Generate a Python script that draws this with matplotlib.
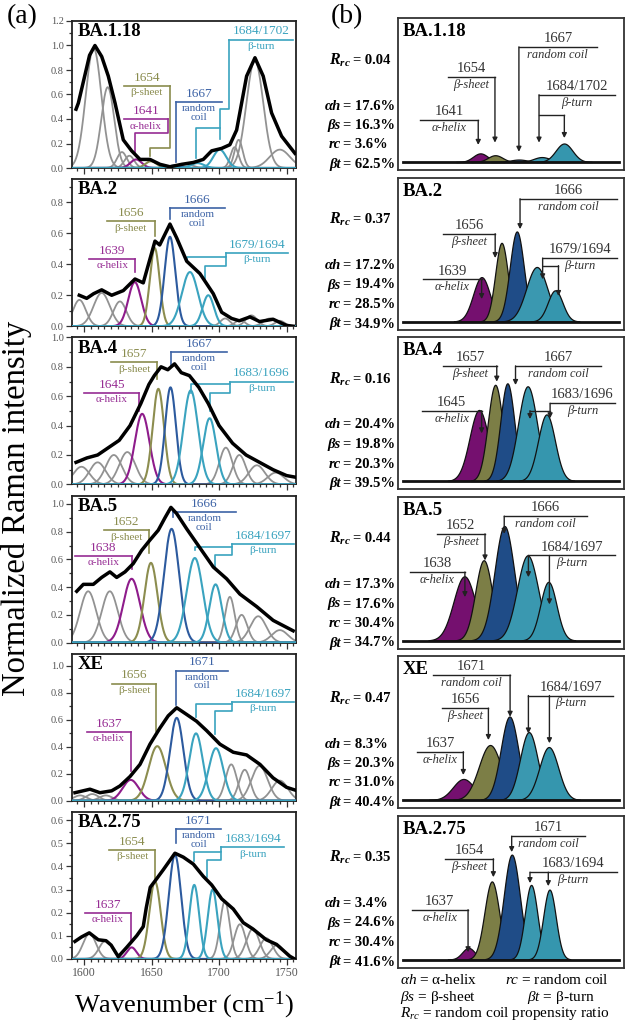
import numpy as np
import matplotlib
matplotlib.use("Agg")
import matplotlib.pyplot as plt
from matplotlib.ticker import MultipleLocator, FormatStrFormatter

plt.rcParams['font.family'] = ['Liberation Serif', 'DejaVu Serif']
plt.rcParams['mathtext.fontset'] = 'custom'
plt.rcParams['mathtext.rm'] = 'Liberation Serif'
plt.rcParams['mathtext.it'] = 'Liberation Serif:italic'
plt.rcParams['mathtext.bf'] = 'Liberation Serif:italic:bold'

# ---------------- data ----------------
names = ['BA.1.18', 'BA.2', 'BA.4', 'BA.5', 'XE', 'BA.2.75']

# measured spectra (black)
black_wn = [
    [1594, 1595.7, 1600.6, 1604, 1608, 1613, 1617.9, 1622.9, 1629, 1635.2, 1641.4, 1648.8, 1656.2, 1663.6,
     1672.3, 1680.9, 1688.3, 1694.5, 1701.9, 1708, 1713, 1720.4, 1726.6, 1732.7, 1738.9, 1746.3, 1756.2],
    [1596.4, 1601.9, 1607, 1613, 1620.4, 1629, 1637.7, 1643.8, 1652.5, 1656, 1663.6, 1668.6, 1676, 1685.8,
     1695.7, 1701.9, 1709.3, 1715, 1722.9, 1730, 1740, 1750, 1755],
    [1594, 1602, 1610, 1618, 1626, 1634, 1642, 1648, 1652, 1657, 1662, 1667, 1672, 1678, 1685, 1692, 1700,
     1710, 1720, 1730, 1740, 1750, 1756],
    [1594.5, 1599.4, 1606.8, 1613, 1619.1, 1624.1, 1630.3, 1636.4, 1642.6, 1648.8, 1654.9, 1659.9, 1664.3,
     1668.6, 1676, 1684.6, 1695.7, 1705.6, 1715.4, 1727.8, 1740.1, 1754.9],
    [1593.2, 1604.3, 1611.7, 1620.4, 1626.5, 1634, 1641.4, 1648.8, 1656.2, 1662.3, 1668.6, 1676, 1683.3,
     1690.8, 1700.6, 1710.5, 1720.4, 1730.3, 1740, 1750, 1756.2],
    [1593.2, 1598, 1603.8, 1610.5, 1616.2, 1620, 1625.3, 1631.5, 1638.9, 1643.8, 1646, 1649, 1652.5, 1658.7,
     1667.3, 1673.5, 1680.9, 1688.3, 1694.5, 1701.9, 1710.5, 1717.9, 1725, 1735, 1742.6, 1752.4, 1756],
]
black_int = [
    [0.48, 0.53, 0.76, 0.92, 1.0, 0.91, 0.75, 0.53, 0.23, 0.14, 0.07, 0.07, 0.03, 0.01,
     0.03, 0.045, 0.07, 0.14, 0.16, 0.19, 0.31, 0.75, 0.9, 0.75, 0.45, 0.26, 0.12],
    [0.20, 0.18, 0.21, 0.235, 0.20, 0.23, 0.305, 0.28, 0.55, 0.525, 0.66, 0.57, 0.42, 0.34,
     0.21, 0.09, 0.05, 0.035, 0.06, 0.03, 0.045, 0.005, 0.0],
    [0.15, 0.18, 0.2, 0.25, 0.3, 0.4, 0.55, 0.68, 0.74, 0.8, 0.78, 0.82, 0.76, 0.74, 0.66, 0.55, 0.4,
     0.28, 0.2, 0.15, 0.1, 0.06, 0.05],
    [0.37, 0.42, 0.42, 0.47, 0.51, 0.47, 0.51, 0.57, 0.665, 0.74, 0.81, 0.9, 0.975, 0.93, 0.82, 0.70,
     0.545, 0.46, 0.35, 0.26, 0.16, 0.085],
    [0.06, 0.086, 0.06, 0.074, 0.11, 0.18, 0.27, 0.42, 0.54, 0.63, 0.69, 0.64, 0.59, 0.52, 0.42, 0.36,
     0.34, 0.27, 0.17, 0.10, 0.08],
    [0.076, 0.095, 0.113, 0.083, 0.079, 0.06, 0.01, 0.05, 0.10, 0.14, 0.22, 0.31, 0.337, 0.386, 0.457,
     0.44, 0.41, 0.357, 0.32, 0.26, 0.216, 0.157, 0.13, 0.083, 0.063, 0.012, 0.0],
]

# fitted bands: alpha-helix, beta-sheet, random coil, beta-turn 1, beta-turn 2
band_c = [
    [1638.5, 1649.5, 1667, 1684, 1700.5],
    [1637.5, 1652.3, 1663.6, 1678.4, 1692],
    [1643, 1655, 1664, 1679, 1693],
    [1635.2, 1649.5, 1664.8, 1682, 1697.4],
    [1634.5, 1654.2, 1668.6, 1682.9, 1697.7],
    [1635.2, 1652.5, 1667.3, 1681.6, 1695.2],
]
band_h = [
    [0.07, 0.055, 0.02, 0.04, 0.15],
    [0.285, 0.505, 0.578, 0.35, 0.2],
    [0.48, 0.65, 0.66, 0.64, 0.45],
    [0.46, 0.575, 0.82, 0.61, 0.42],
    [0.155, 0.405, 0.615, 0.5, 0.39],
    [0.05, 0.335, 0.45, 0.32, 0.30],
]
band_w = [
    [4.2, 4.2, 4.8, 4.8, 4.8],
    [4.8, 3.6, 4.0, 6.0, 4.2],
    [5.4, 4.2, 4.0, 5.4, 4.8],
    [6.2, 4.8, 5.6, 6.0, 4.6],
    [6.0, 6.4, 5.0, 5.0, 5.4],
    [3.6, 4.2, 4.6, 3.6, 3.6],
]
# other (grey) bands
grey_c = [
    [1607, 1617.5, 1628, 1633.5, 1676, 1711.5, 1714.5, 1726.5, 1745],
    [1596.5, 1613, 1626.5, 1704.5, 1715.5, 1724, 1737.7, 1745],
    [1598, 1610, 1622, 1632, 1705, 1715, 1728, 1742],
    [1603, 1619, 1708, 1716.7, 1729, 1745],
    [1597, 1606, 1616, 1709, 1719, 1730, 1745],
    [1604, 1616, 1704.3, 1715.4, 1725, 1735, 1743],
]
grey_h = [
    [0.98, 0.66, 0.13, 0.1, 0.03, 0.17, 0.23, 0.88, 0.15],
    [0.17, 0.215, 0.16, 0.05, 0.04, 0.07, 0.05, 0.035],
    [0.12, 0.15, 0.2, 0.22, 0.25, 0.2, 0.13, 0.08],
    [0.37, 0.37, 0.33, 0.2, 0.19, 0.09],
    [0.04, 0.05, 0.04, 0.27, 0.23, 0.26, 0.15],
    [0.11, 0.08, 0.25, 0.15, 0.13, 0.09, 0.06],
]
grey_w = [
    [5.8, 4.8, 3.6, 3.6, 4.8, 3, 3, 6.2, 7.5],
    [4.8, 6, 4.8, 3.6, 3.6, 4.2, 4.8, 3.6],
    [6, 6, 6, 6, 4.8, 4.8, 6, 6],
    [6, 6, 3.6, 4.2, 6, 6],
    [4.8, 4.8, 4.8, 4.2, 4.2, 6, 6],
    [4.8, 4.8, 3.6, 4.2, 4.8, 4.8, 4.8],
]

band_labels = [
    ['1641', '1654', '1667', '1684/1702'],
    ['1639', '1656', '1666', '1679/1694'],
    ['1645', '1657', '1667', '1683/1696'],
    ['1638', '1652', '1666', '1684/1697'],
    ['1637', '1656', '1671', '1684/1697'],
    ['1637', '1654', '1671', '1683/1694'],
]
r_rc = ['0.04', '0.37', '0.16', '0.44', '0.47', '0.35']
pct_ah = ['17.6%', '17.2%', '20.4%', '17.3%', '8.3%', '3.4%']
pct_bs = ['16.3%', '19.4%', '19.8%', '17.6%', '20.3%', '24.6%']
pct_rc = ['3.6%', '28.5%', '20.3%', '30.4%', '31.0%', '30.4%']
pct_bt = ['62.5%', '34.9%', '39.5%', '34.7%', '40.4%', '41.6%']

y_top = [1.2, 0.95, 1.0, 1.06, 1.09, 0.635]
y_step = [0.2, 0.2, 0.2, 0.2, 0.2, 0.1]

# ---------------- style ----------------
LINE_C = ['#8e1c8b', '#8c8d4f', '#2c5a9e', '#3aa3bf', '#3aa3bf']
FILL_C = ['#75106f', '#7c7e46', '#1f4c87', '#3a98b0', '#3596ae']
GREY = '#929292'
TXT = '#333333'
RIGHT_WIDEN = 1.3

W, H = 627, 1026
fig = plt.figure(figsize=(W / 100, H / 100), dpi=100)


def add_ax(x, y, w, h):
    return fig.add_axes([x / W, 1 - (y + h) / H, w / W, h / H])


def gauss(x, c, h, w):
    return h * np.exp(-0.5 * ((x - c) / w) ** 2)


xs = np.linspace(1560, 1770, 1100)

# left annotation layout: (x0, x1, yline, paths) x in cm-1, y in axes fraction
left_notes = [
    [(1629.5, 1662.3, 0.33, [[(1662.3, .33), (1662.3, .24), (1638, .24), (1638, .10)]]),
     (1629.5, 1663.3, 0.556, [[(1663.3, .556), (1663.3, .137), (1648.5, .137), (1648.5, .08)]]),
     (1668, 1702, 0.449, [[(1668, .449), (1668, .04)]]),
     (1707.5, 1755, 0.873, [[(1707.5, .873), (1707.5, .40), (1700.6, .40), (1700.6, .2)],
                            [(1700.6, .27), (1683, .27), (1683, .07)]])],
    [(1603.8, 1637.7, 0.458, [[(1637.7, .458), (1637.7, .37)]]),
     (1616.6, 1652.4, 0.713, [[(1652.4, .713), (1652.4, .616)]]),
     (1663.5, 1704.2, 0.803, [[(1663.5, .803), (1663.5, .73)]]),
     (1705.4, 1751.1, 0.496, [[(1705.4, .496), (1705.4, .47), (1676.3, .47), (1676.3, .437)],
                              [(1705.4, .47), (1705.4, .41), (1689.9, .41), (1689.9, .3)]])],
    [(1600, 1641, 0.62, [[(1641, .62), (1641, .5)]]),
     (1620, 1654, 0.83, [[(1654, .83), (1654, .72)]]),
     (1664, 1706, 0.9, [[(1664, .9), (1664, .8)]]),
     (1708, 1755, 0.7, [[(1708, .7), (1708, .68), (1679, .68), (1679, .62)],
                        [(1708, .68), (1708, .62), (1693, .62), (1693, .5)]])],
    [(1593.2, 1635.2, 0.589, [[(1635.2, .589), (1635.2, .503)]]),
     (1614.4, 1647.7, 0.763, [[(1647.7, .763), (1647.7, .607)]]),
     (1665.6, 1712.5, 0.887, [[(1665.6, .887), (1665.6, .853)]]),
     (1709.5, 1755.7, 0.672, [[(1709.5, .672), (1709.5, .65), (1682.4, .65), (1682.4, .627)],
                              [(1709.5, .65), (1709.5, .598), (1697.3, .598), (1697.3, .507)]])],
    [(1601.9, 1634.5, 0.47, [[(1634.5, .47), (1634.5, .2)]]),
     (1620.7, 1653.3, 0.797, [[(1653.3, .797), (1653.3, .475)]]),
     (1668.1, 1706.4, 0.886, [[(1668.1, .886), (1668.1, .655)]]),
     (1709.5, 1755.7, 0.673, [[(1709.5, .673), (1709.5, .66), (1682.9, .66), (1682.9, .57)],
                              [(1709.5, .66), (1709.5, .611), (1697.3, .611), (1697.3, .457)]])],
    [(1600.6, 1634.5, 0.312, [[(1634.5, .312), (1634.5, .116)]]),
     (1618.6, 1652.5, 0.74, [[(1652.5, .74), (1652.5, .53)]]),
     (1668.1, 1701.4, 0.884, [[(1668.1, .884), (1668.1, .787)]]),
     (1701.4, 1748.3, 0.759, [[(1701.4, .759), (1701.4, .729), (1681.6, .729), (1681.6, .667)],
                              [(1701.4, .729), (1701.4, .671), (1691, .671), (1691, .556)]])],
]

# right annotation layout (axes fraction): (x0, x1, yline, arrow paths)
right_notes = [
    [(0.097, 0.355, 0.327, [[(0.355, .327), (0.355, .165)]]),
     (0.223, 0.429, 0.61, [[(0.429, .61), (0.429, .18)]]),
     (0.535, 0.879, 0.81, [[(0.535, .81), (0.535, .12)]]),
     (0.624, 0.96, 0.495, [[(0.624, .495), (0.624, .18)], [(0.624, .36), (0.736, .36), (0.736, .21)]])],
    [(0.11, 0.37, 0.33, [[(0.37, .33), (0.37, .2)]]),
     (0.2, 0.43, 0.63, [[(0.43, .63), (0.43, .47)]]),
     (0.54, 0.97, 0.86, [[(0.54, .86), (0.54, .66)]]),
     (0.64, 0.97, 0.47, [[(0.64, .47), (0.64, .33)], [(0.64, .42), (0.71, .42), (0.71, .22)]])],
    [(0.105, 0.37, 0.515, [[(0.37, .515), (0.37, .366)]]),
     (0.2, 0.437, 0.81, [[(0.437, .81), (0.437, .706)]]),
     (0.52, 0.9, 0.81, [[(0.52, .81), (0.52, .684)]]),
     (0.673, 0.96, 0.564, [[(0.673, .564), (0.673, .465)], [(0.673, .515), (0.584, .515), (0.584, .46)]])],
    [(0.053, 0.296, 0.503, [[(0.296, .503), (0.296, .338)]]),
     (0.171, 0.385, 0.754, [[(0.385, .754), (0.385, .579)]]),
     (0.47, 0.835, 0.871, [[(0.47, .871), (0.47, .754)]]),
     (0.577, 0.96, 0.612, [[(0.577, .612), (0.577, .469)], [(0.67, .612), (0.67, .29)]])],
    [(0.083, 0.289, 0.37, [[(0.289, .37), (0.289, .217)]]),
     (0.193, 0.4, 0.657, [[(0.4, .657), (0.4, .447)]]),
     (0.156, 0.496, 0.875, [[(0.496, .875), (0.496, .6)]]),
     (0.577, 0.953, 0.74, [[(0.577, .74), (0.577, .49)], [(0.67, .74), (0.67, .426)]])],
    [(0.06, 0.31, 0.38, [[(0.31, .38), (0.31, .1)]]),
     (0.208, 0.422, 0.715, [[(0.422, .715), (0.422, .594)]]),
     (0.503, 0.827, 0.864, [[(0.503, .864), (0.503, .759)]]),
     (0.584, 0.967, 0.627, [[(0.584, .627), (0.584, .555)], [(0.665, .627), (0.665, .535)]])],
]
right_x0 = [1577.5, 1575.6, 1583, 1586, 1586, 1583]
band_names_l = ['α-helix', 'β-sheet', 'random\ncoil', 'β-turn']
band_names_r = ['α-helix', 'β-sheet', 'random coil', 'β-turn']
note_col = ['#962c93', '#8a8c4e', '#3d63a6', '#3aa3bf']

for i in range(6):
    top = 21 + 158.2 * i
    ax = add_ax(72, top, 224, 147)
    for c, h, w in zip(grey_c[i], grey_h[i], grey_w[i]):
        ax.plot(xs, gauss(xs, c, h, w), color=GREY, lw=1.3, zorder=2)
    for k in range(5):
        ax.plot(xs, gauss(xs, band_c[i][k], band_h[i][k], band_w[i][k]), color=LINE_C[k], lw=1.5, zorder=3)
    ax.plot(black_wn[i], black_int[i], color='black', lw=2.5, zorder=5, solid_joinstyle='round')
    ax.set_xlim(1591, 1757)
    ax.set_ylim(0, y_top[i])
    ax.xaxis.set_major_locator(MultipleLocator(50))
    ax.xaxis.set_minor_locator(MultipleLocator(5))
    ax.yaxis.set_major_locator(MultipleLocator(y_step[i]))
    ax.yaxis.set_minor_locator(MultipleLocator(y_step[i] / 2))
    ax.tick_params(which='both', direction='out', color='#333', width=0.9, labelsize=7.5,
                   labelcolor='#555', pad=1.5)
    ax.tick_params(which='major', length=4.5)
    ax.tick_params(which='minor', length=2.5)
    ax.yaxis.set_major_formatter(FormatStrFormatter('%.1f'))
    if i < 5:
        ax.tick_params(axis='x', labelbottom=False)
    else:
        ax.tick_params(axis='x', labelsize=8.5)
    for s in ax.spines.values():
        s.set_linewidth(1.3)
        s.set_color('#222')
    ax.text(0.025, 0.985, names[i], transform=ax.transAxes, fontsize=13.5, weight='bold',
            va='top', ha='left', zorder=6)
    tr = ax.get_xaxis_transform()
    for k, (x0, x1, yl, paths) in enumerate(left_notes[i]):
        col = note_col[k]
        ax.plot([x0, x1], [yl, yl], color=col, lw=1.2, transform=tr, zorder=4)
        for p in paths:
            px, py = zip(*p)
            ax.plot(px, py, color=col, lw=1.2, transform=tr, zorder=4)
        xc = (x0 + x1) / 2
        ax.text(xc, yl + 0.015, band_labels[i][k], color=col, fontsize=9.5, ha='center', va='bottom',
                transform=tr, zorder=6)
        ax.text(xc, yl - 0.015, band_names_l[k], color=col, fontsize=8, ha='center', va='top',
                linespacing=0.9, transform=tr, zorder=6)

    # right-hand panel: fitted secondary-structure bands only
    rtop = 18 + 159.5 * i
    rax = add_ax(398, rtop, 226, 152)
    s = 148 / y_top[i]
    rax.set_xlim(right_x0[i], right_x0[i] + 167.4)
    rax.set_ylim(-8 / s, 144 / s)
    for k in range(5):
        g = gauss(xs, band_c[i][k], band_h[i][k], band_w[i][k] * RIGHT_WIDEN)
        m = g > band_h[i][k] * 0.004
        rax.fill_between(xs[m], 0, g[m], facecolor=FILL_C[k], edgecolor='#111', lw=0.9, zorder=2 + k)
    rax.plot([0.02, 0.98], [8 / 152, 8 / 152], color='#111', lw=2.0, transform=rax.transAxes, zorder=10)
    rax.set_xticks([])
    rax.set_yticks([])
    for sp in rax.spines.values():
        sp.set_linewidth(1.3)
        sp.set_color('#333')
    rax.text(0.02, 0.965, names[i], transform=rax.transAxes, fontsize=13.5, weight='bold',
             va='top', ha='left')
    for k, (x0, x1, yl, paths) in enumerate(right_notes[i]):
        rax.plot([x0, x1], [yl, yl], color='#222', lw=1.0, transform=rax.transAxes, zorder=11)
        for p in paths:
            for a, b in zip(p[:-2], p[1:-1]):
                rax.plot([a[0], b[0]], [a[1], b[1]], color='#222', lw=1.0, transform=rax.transAxes,
                         zorder=11)
            rax.annotate('', xy=p[-1], xytext=p[-2], xycoords='axes fraction',
                         arrowprops=dict(arrowstyle='-|>', color='#222', lw=1.0, mutation_scale=7,
                                         shrinkA=0, shrinkB=0), zorder=11)
        xc = (x0 + x1) / 2
        rax.text(xc, yl + 0.012, band_labels[i][k], color=TXT, fontsize=10.5, ha='center', va='bottom',
                 transform=rax.transAxes, zorder=12)
        rax.text(xc, yl - 0.012, band_names_r[k], color=TXT, fontsize=9, style='italic', ha='center',
                 va='top', transform=rax.transAxes, zorder=12)

    # side numbers
    fig.text(351 / W, 1 - (rtop + 42) / H, r'$\mathbf{R_{rc}}$', fontsize=11.5, ha='right', va='center')
    fig.text(353 / W, 1 - (rtop + 42) / H, '= ' + r_rc[i], fontsize=10.5, weight='bold',
             ha='left', va='center')
    for j, (lab, val) in enumerate(zip(['αh', 'βs', 'rc', 'βt'],
                                       [pct_ah[i], pct_bs[i], pct_rc[i], pct_bt[i]])):
        yy = 1 - (rtop + 88 + 19.5 * j) / H
        fig.text(341 / W, yy, lab, fontsize=10.5, weight='bold', style='italic', ha='right', va='center')
        fig.text(343 / W, yy, '= ' + val, fontsize=10.5, weight='bold', ha='left', va='center')

fig.text(22 / W, 1 - 17 / H, '(a)', fontsize=20, ha='center', va='center')
fig.text(347 / W, 1 - 17 / H, '(b)', fontsize=20, ha='center', va='center')
fig.text(17 / W, 1 - 508 / H, 'Normalized Raman intensity', fontsize=23.5, rotation=90,
         ha='center', va='center')
fig.text(184 / W, 1 - 1005 / H, 'Wavenumber (cm$^{-1}$)', fontsize=19, ha='center', va='center')

leg_y = [980, 997, 1014]
fig.text(400 / W, 1 - leg_y[0] / H, '$αh$ = α-helix', fontsize=11, ha='left', va='center')
fig.text(505 / W, 1 - leg_y[0] / H, '$rc$ = random coil', fontsize=11, ha='left', va='center')
fig.text(400 / W, 1 - leg_y[1] / H, '$βs$ = β-sheet', fontsize=11, ha='left', va='center')
fig.text(527 / W, 1 - leg_y[1] / H, '$βt$ = β-turn', fontsize=11, ha='left', va='center')
fig.text(400 / W, 1 - leg_y[2] / H, '$R_{rc}$ = random coil propensity ratio', fontsize=11,
         ha='left', va='center')

fig.savefig('out.png', dpi=100)
